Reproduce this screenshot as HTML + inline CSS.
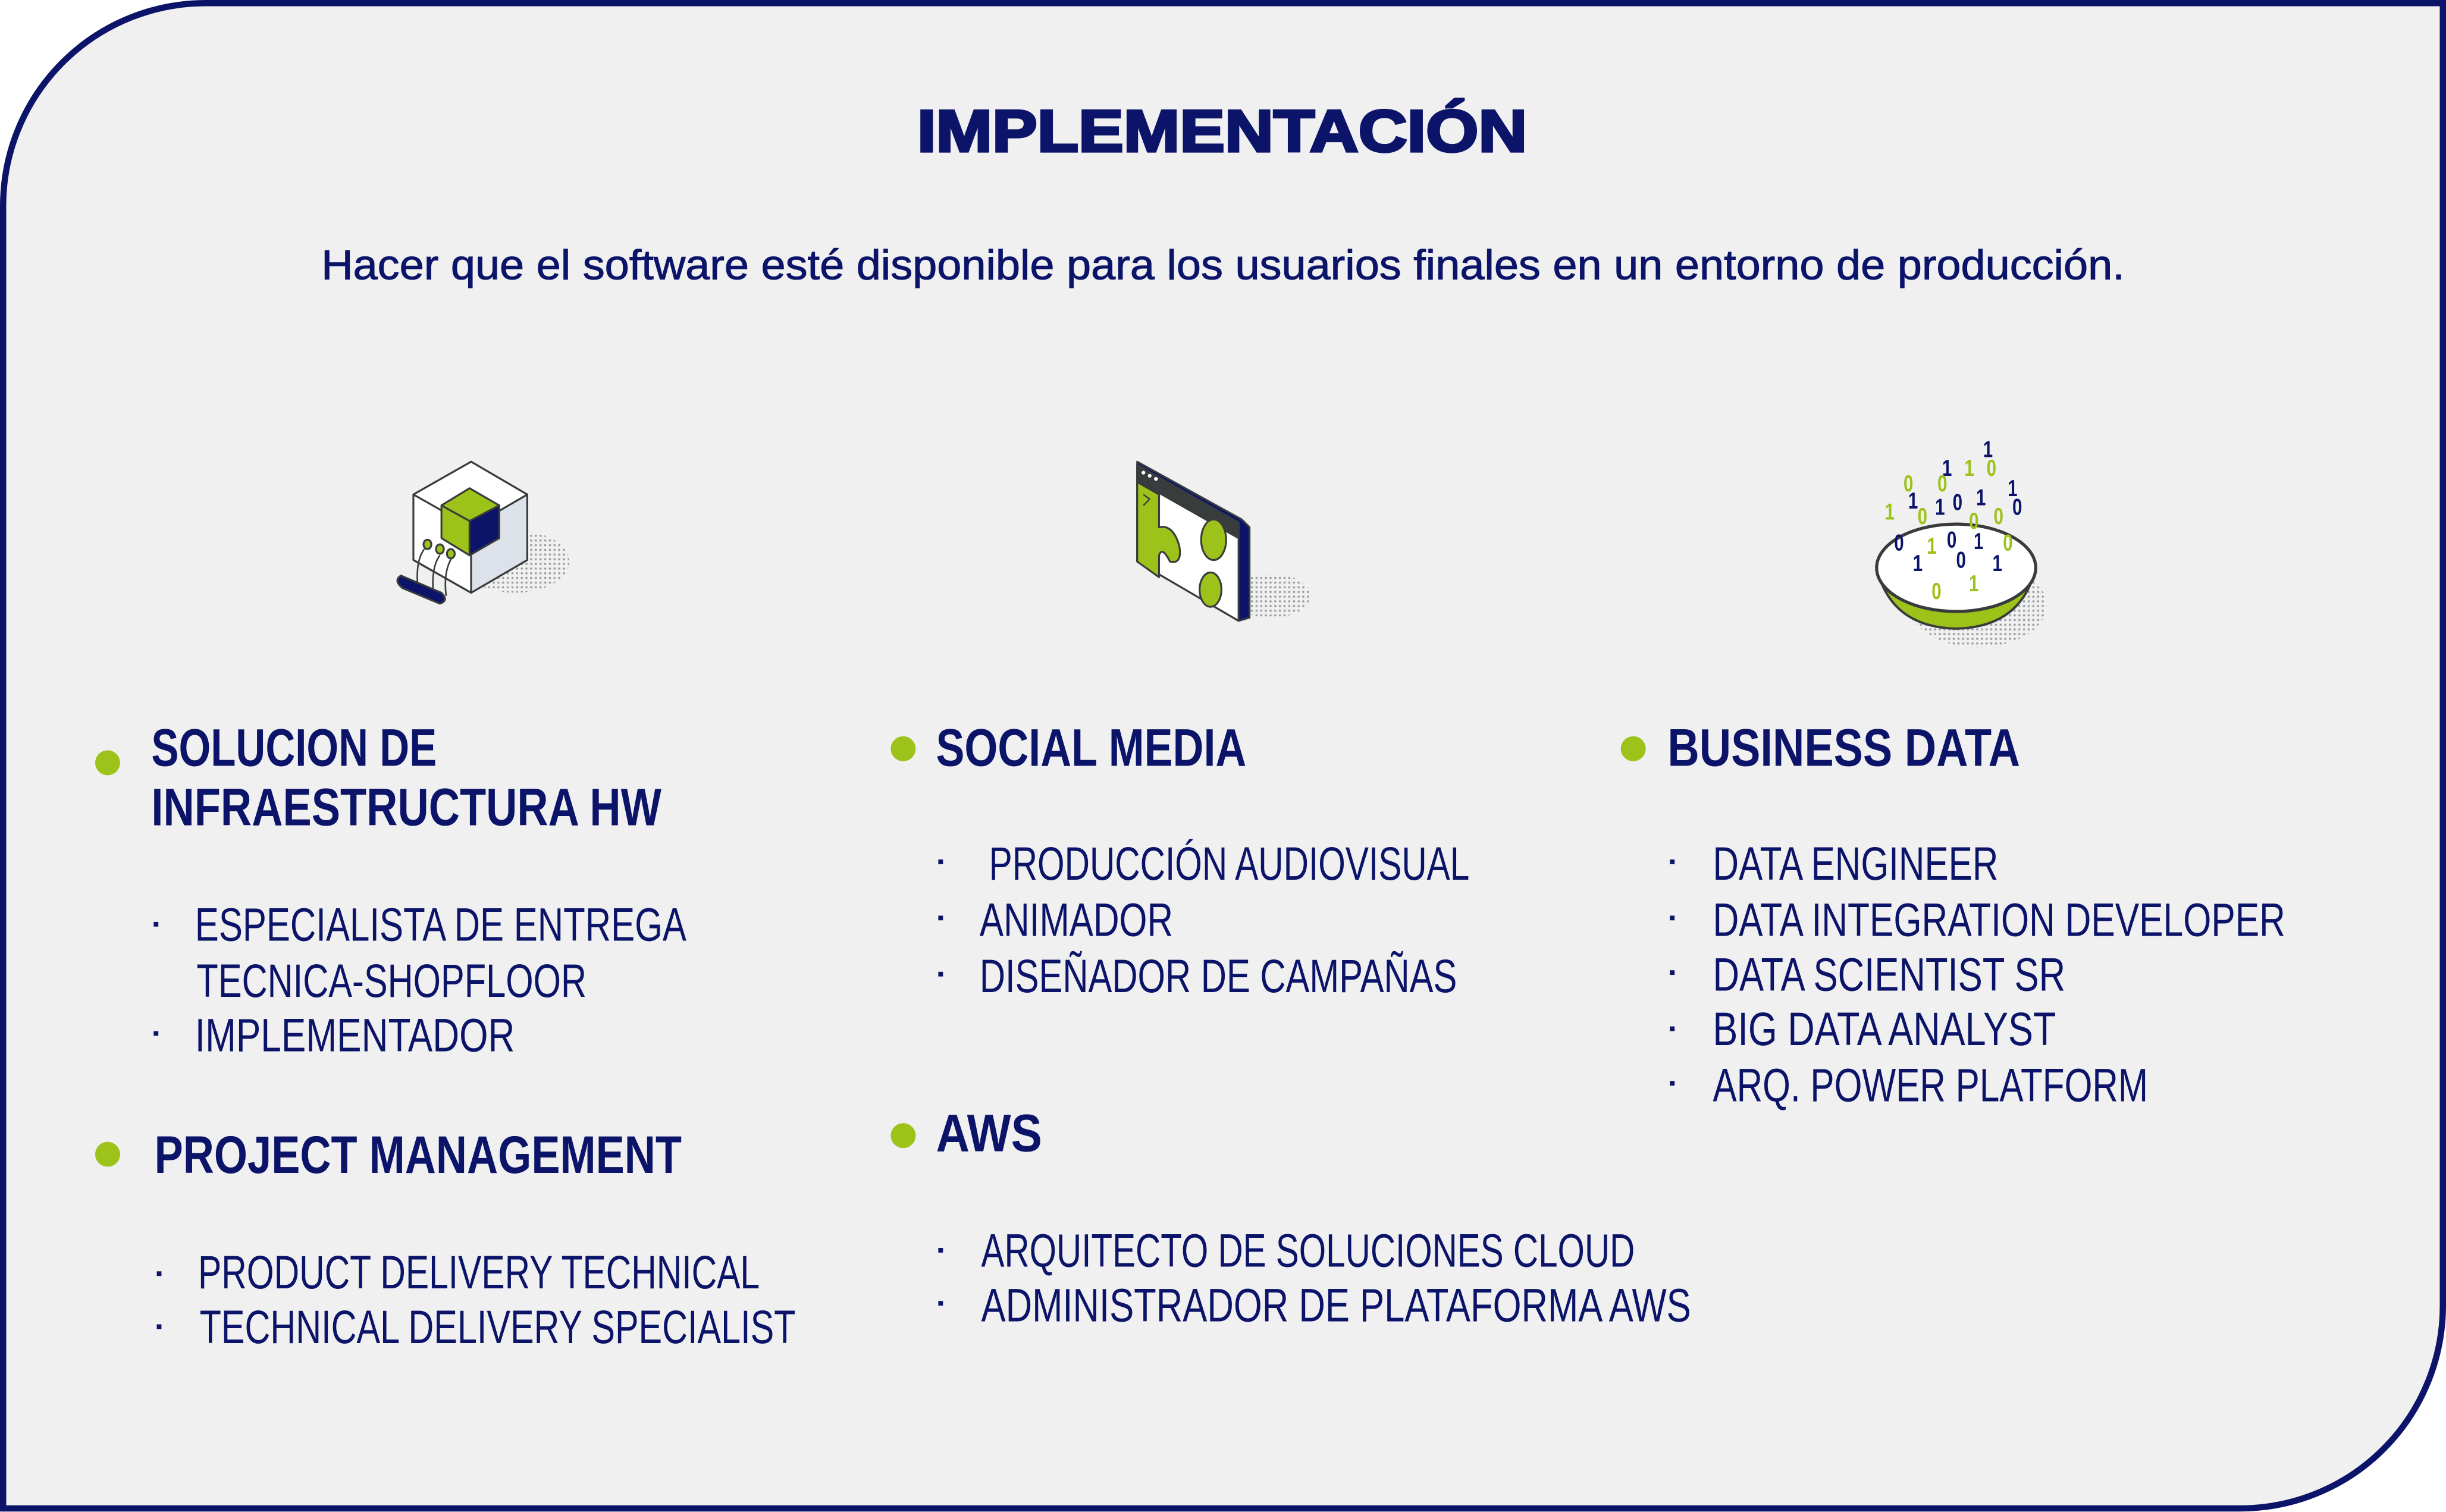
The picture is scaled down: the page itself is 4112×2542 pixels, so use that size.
<!DOCTYPE html>
<html><head><meta charset="utf-8"><style>
html,body{margin:0;padding:0;background:#fff;}
svg{display:block;}
.h{font-family:"Liberation Sans",sans-serif;font-weight:bold;fill:#0b1469;}
.t{font-family:"Liberation Sans",sans-serif;fill:#0b1469;}
.d{font-family:"Liberation Sans",sans-serif;font-size:15px;}
</style></head><body>
<svg width="4112" height="2542" viewBox="0 0 1568 969.3" preserveAspectRatio="none" xmlns="http://www.w3.org/2000/svg">
<defs>
<pattern id="dots" width="3" height="3" patternUnits="userSpaceOnUse"><circle cx="1.5" cy="1.5" r="0.7" fill="#9a9ca3"/></pattern>
</defs>
<rect width="1568" height="970" fill="#fff"/>
<path d="M2,967 V132 A130,130 0 0 1 132,2 H1566 V837 A130,130 0 0 1 1436,967 Z" fill="#f0f0f0" stroke="#0b1469" stroke-width="4"/>

<text class="h" x="588" y="97" font-size="38" textLength="391" lengthAdjust="spacingAndGlyphs" stroke="#0b1469" stroke-width="1.6">IMPLEMENTACIÓN</text>
<text class="t" x="206" y="179" font-size="27" textLength="1156" lengthAdjust="spacingAndGlyphs" stroke="#0b1469" stroke-width="0.4">Hacer que el software esté disponible para los usuarios finales en un entorno de producción.</text>

<!-- cube icon -->
<g stroke="#383c3c" stroke-width="1.2" stroke-linejoin="round">
<ellipse cx="330" cy="360" rx="35" ry="20" fill="url(#dots)" stroke="none"/>
<polygon points="302,296 338,317 338,359 302,380 265,359 265,317" fill="#fff"/>
<polygon points="302,338 338,317 338,359 302,380" fill="#dde2ea"/>
<polygon points="302,338 265,317 302,296 338,317" fill="#fff"/>
<polygon points="301,313 320,324 320,345 301,356 283,345 283,324" fill="#9dc21a"/>
<polygon points="301,334 320,324 320,345 301,356" fill="#0b1469"/>
<polygon points="301,313 320,324 301,334 283,324" fill="#9dc21a"/>
<path d="M265,359 L302,380" fill="none"/>
<path d="M272,352 Q266,360 268,378 M282,356 Q276,364 278,382 M290,357 Q284,366 286,382" fill="none" stroke-width="1"/>
<ellipse cx="274" cy="349" rx="2.5" ry="3" fill="#9dc21a"/>
<ellipse cx="282" cy="352" rx="2.5" ry="3" fill="#9dc21a"/>
<ellipse cx="289" cy="355" rx="2.5" ry="3" fill="#9dc21a"/>
<path d="M257,369 L283,380 Q288,385 282,387 L258,377 Q252,372 257,369 Z" fill="#0b1469"/>
</g>

<!-- screen icon -->
<g stroke="#383c3c" stroke-width="1.2" stroke-linejoin="round">
<ellipse cx="815" cy="382" rx="25" ry="14" fill="url(#dots)" stroke="none"/>
<polygon points="729,296 796,333 801,338 801,396 794,398 729,360" fill="#0b1469"/>
<polygon points="729,298 794,335 794,398 729,360" fill="#fff"/>
<polygon points="729,298 794,335 794,345 729,308" fill="#383c3c"/>
<circle cx="733" cy="303" r="1.2" fill="#fff" stroke="none"/>
<circle cx="737" cy="305" r="1.2" fill="#fff" stroke="none"/>
<circle cx="741" cy="307" r="1.2" fill="#fff" stroke="none"/>
<path d="M729,309 L743,317 L743,338 Q752,336 756,350 Q758,362 750,360 Q745,350 743,356 L743,370 L729,360 Z" fill="#9dc21a"/>
<ellipse cx="778" cy="346" rx="8" ry="13" fill="#9dc21a"/>
<ellipse cx="776" cy="378" rx="7" ry="11" fill="#9dc21a"/>
<path d="M733,317 L737,320 L733,324" fill="none" stroke-width="0.9"/>
</g>

<!-- bowl icon -->
<g stroke="#383c3c" stroke-width="1.5">
<ellipse cx="1268" cy="388" rx="44" ry="27" fill="url(#dots)" stroke="none"/>
<path d="M1203,364 Q1212,402 1254,403 Q1296,402 1305,364 Z" fill="#9dc21a"/>
<ellipse cx="1254" cy="364" rx="51" ry="28" fill="#fff" stroke-width="2"/>
</g>
<g class="d" font-weight="bold" transform="scale(0.75,1)">
<g transform="translate(0,0)">
<text x="1695" y="293" fill="#0b1469">1</text>
<text x="1660" y="305" fill="#0b1469">1</text>
<text x="1679" y="305" fill="#9dc21a">1</text>
<text x="1698" y="305" fill="#9dc21a">0</text>
<text x="1627" y="315" fill="#9dc21a">0</text>
<text x="1656" y="315" fill="#9dc21a">0</text>
<text x="1716" y="318" fill="#0b1469">1</text>
<text x="1631" y="326" fill="#0b1469">1</text>
<text x="1654" y="330" fill="#0b1469">1</text>
<text x="1669" y="327" fill="#0b1469">0</text>
<text x="1689" y="324" fill="#0b1469">1</text>
<text x="1720" y="330" fill="#0b1469">0</text>
<text x="1611" y="333" fill="#9dc21a">1</text>
<text x="1639" y="336" fill="#9dc21a">0</text>
<text x="1683" y="339" fill="#9dc21a">0</text>
<text x="1704" y="336" fill="#9dc21a">0</text>
<text x="1619" y="353" fill="#0b1469">0</text>
<text x="1647" y="355" fill="#9dc21a">1</text>
<text x="1664" y="351" fill="#0b1469">0</text>
<text x="1687" y="352" fill="#0b1469">1</text>
<text x="1712" y="353" fill="#9dc21a">0</text>
<text x="1635" y="366" fill="#0b1469">1</text>
<text x="1672" y="364" fill="#0b1469">0</text>
<text x="1703" y="366" fill="#0b1469">1</text>
<text x="1651" y="384" fill="#9dc21a">0</text>
<text x="1683" y="379" fill="#9dc21a">1</text>
</g>
</g>

<!-- bullets -->
<g fill="#9dc21a">
<circle cx="69" cy="489" r="8"/>
<circle cx="69" cy="740" r="8"/>
<circle cx="579" cy="480" r="8"/>
<circle cx="579" cy="728" r="8"/>
<circle cx="1047" cy="480" r="8"/>
</g>
<g fill="#0b1469">
<rect x="98.5" y="591" width="3" height="3"/>
<rect x="98.5" y="661" width="3" height="3"/>
<rect x="100.5" y="815" width="3" height="3"/>
<rect x="100.5" y="849" width="3" height="3"/>
<rect x="601.5" y="551" width="3" height="3"/>
<rect x="601.5" y="587" width="3" height="3"/>
<rect x="601.5" y="623" width="3" height="3"/>
<rect x="601.5" y="800" width="3" height="3"/>
<rect x="601.5" y="834" width="3" height="3"/>
<rect x="1070.5" y="551" width="3" height="3"/>
<rect x="1070.5" y="587" width="3" height="3"/>
<rect x="1070.5" y="622" width="3" height="3"/>
<rect x="1070.5" y="658" width="3" height="3"/>
<rect x="1070.5" y="693" width="3" height="3"/>
</g>

<!-- headings -->
<g class="h" font-size="34">
<text x="97" y="491" textLength="183" lengthAdjust="spacingAndGlyphs">SOLUCION DE</text>
<text x="97" y="529" textLength="327" lengthAdjust="spacingAndGlyphs">INFRAESTRUCTURA HW</text>
<text x="99" y="752" textLength="338" lengthAdjust="spacingAndGlyphs">PROJECT MANAGEMENT</text>
<text x="600" y="491" textLength="199" lengthAdjust="spacingAndGlyphs">SOCIAL MEDIA</text>
<text x="600" y="738" textLength="68" lengthAdjust="spacingAndGlyphs">AWS</text>
<text x="1069" y="491" textLength="226" lengthAdjust="spacingAndGlyphs">BUSINESS DATA</text>
</g>

<!-- items -->
<g class="t" font-size="30">
<text x="125" y="603" textLength="315" lengthAdjust="spacingAndGlyphs">ESPECIALISTA DE ENTREGA</text>
<text x="126" y="639" textLength="250" lengthAdjust="spacingAndGlyphs">TECNICA-SHOPFLOOR</text>
<text x="125" y="674" textLength="205" lengthAdjust="spacingAndGlyphs">IMPLEMENTADOR</text>
<text x="127" y="826" textLength="360" lengthAdjust="spacingAndGlyphs">PRODUCT DELIVERY TECHNICAL</text>
<text x="128" y="861" textLength="382" lengthAdjust="spacingAndGlyphs">TECHNICAL DELIVERY SPECIALIST</text>
<text x="634" y="564" textLength="308" lengthAdjust="spacingAndGlyphs">PRODUCCIÓN AUDIOVISUAL</text>
<text x="628" y="600" textLength="124" lengthAdjust="spacingAndGlyphs">ANIMADOR</text>
<text x="628" y="636" textLength="306" lengthAdjust="spacingAndGlyphs">DISEÑADOR DE CAMPAÑAS</text>
<text x="629" y="812" textLength="419" lengthAdjust="spacingAndGlyphs">ARQUITECTO DE SOLUCIONES CLOUD</text>
<text x="629" y="847" textLength="455" lengthAdjust="spacingAndGlyphs">ADMINISTRADOR DE PLATAFORMA AWS</text>
<text x="1098" y="564" textLength="183" lengthAdjust="spacingAndGlyphs">DATA ENGINEER</text>
<text x="1098" y="600" textLength="367" lengthAdjust="spacingAndGlyphs">DATA INTEGRATION DEVELOPER</text>
<text x="1098" y="635" textLength="226" lengthAdjust="spacingAndGlyphs">DATA SCIENTIST SR</text>
<text x="1098" y="670" textLength="220" lengthAdjust="spacingAndGlyphs">BIG DATA ANALYST</text>
<text x="1098" y="706" textLength="279" lengthAdjust="spacingAndGlyphs">ARQ. POWER PLATFORM</text>
</g>
</svg>
</body></html>
